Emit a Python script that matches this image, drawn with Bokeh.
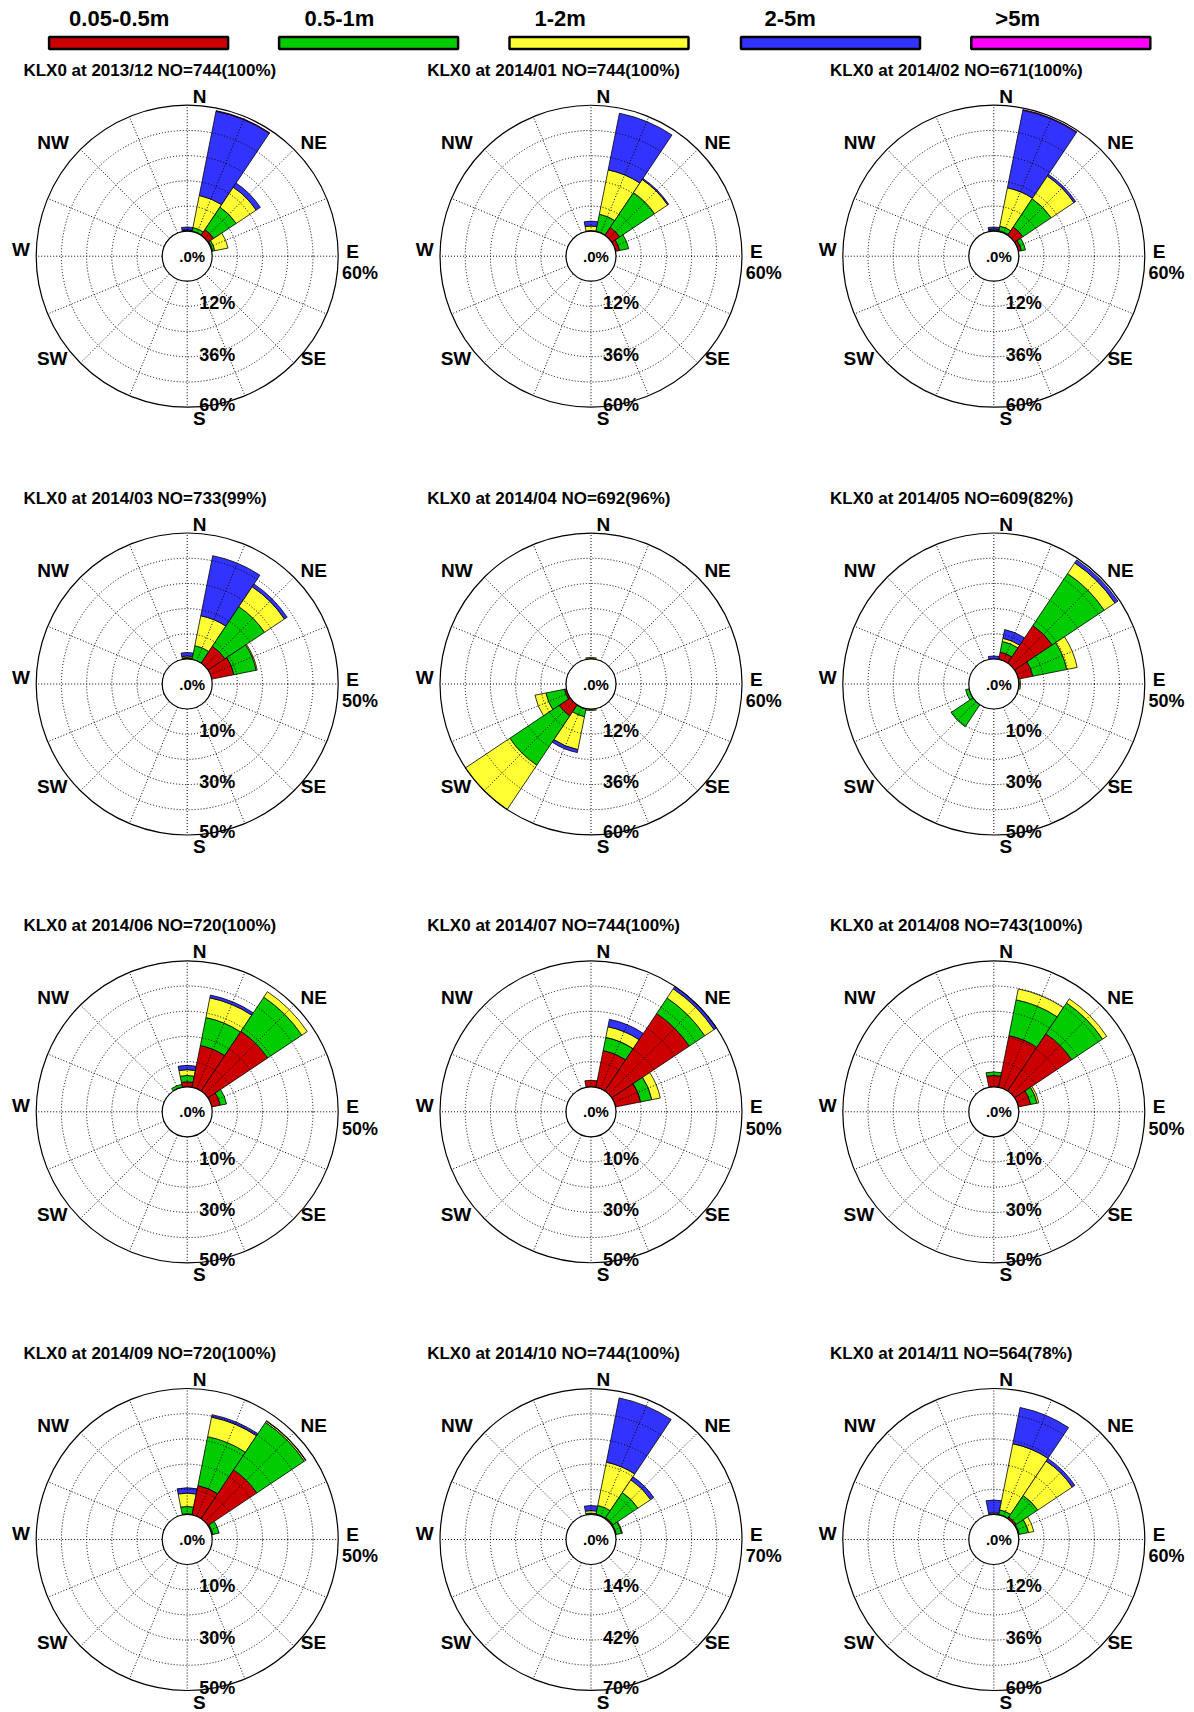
import numpy as np
from bokeh.plotting import figure
from bokeh.models import Range1d
from bokeh.core.properties import value
from bokeh.embed import file_html
from bokeh.resources import INLINE

# ---------------- data ----------------
STATION = "KLX0"
MONTHS = ["2013/12", "2014/01", "2014/02", "2014/03", "2014/04", "2014/05",
          "2014/06", "2014/07", "2014/08", "2014/09", "2014/10", "2014/11"]
COUNTS = [744, 744, 671, 733, 692, 609, 720, 744, 743, 720, 744, 564]
COVERAGE = [100, 100, 100, 99, 96, 82, 100, 100, 100, 100, 100, 78]
RMAX = [60, 60, 60, 50, 60, 50, 50, 50, 50, 50, 70, 60]
DIR_LABELS = ["N", "NE", "E", "SE", "S", "SW", "W", "NW"]
CLASS_LABELS = ["0.05-0.5m", "0.5-1m", "1-2m", "2-5m", ">5m"]
CLASS_COLORS = ["#CC0000", "#00CC00", "#FFFF33", "#3333FF", "#FF00FF"]

# percentage per 16 directions: N NNE NE ENE E ESE SE SSE S SSW SW WSW W WNW NW NNW
RED = [
    [0.2, 0.3, 3.3, 0.5, 0, 0, 0, 0, 0, 0, 0, 0, 0, 0, 0, 0],
    [0, 0.3, 4.6, 2.0, 0, 0, 0, 0, 0, 0, 0, 0, 0, 0, 0, 0],
    [0, 0.5, 4.8, 1.5, 0, 0, 0, 0, 0, 0, 0, 0, 0, 0, 0, 0],
    [0.3, 0, 8.1, 9.0, 0, 0, 0, 0, 0, 0, 0, 0, 0, 0, 0, 0],
    [0, 0, 0, 0, 0, 0, 0, 0, 0, 0.3, 6.4, 1.0, 0, 0, 0, 0],
    [0, 3.0, 18.0, 5.9, 0, 0, 0, 0, 0, 0, 0, 0, 0, 0, 0, 0],
    [2.0, 16.9, 28.5, 3.5, 0, 0, 0, 0, 0, 0, 0, 0, 0, 0, 0, 0],
    [2.6, 14.9, 37.0, 10.2, 0, 0, 0, 0, 0, 0, 0, 0, 0, 0, 0, 0],
    [4.5, 20.9, 27.3, 5.0, 0, 0, 0, 0, 0, 0, 0, 0, 0, 0, 0, 0],
    [0.3, 11.9, 23.3, 0.5, 0, 0, 0, 0, 0, 0, 0, 0, 0, 0, 0, 0],
    [0.2, 0.5, 0.8, 0.5, 0, 0, 0, 0, 0, 0, 0, 0, 0, 0, 0, 0],
    [0, 0.3, 1.0, 0.5, 0, 0, 0, 0, 0, 0, 0, 0, 0, 0, 0, 0],
]
GREEN = [
    [0.3, 1.7, 12.9, 1.0, 0, 0, 0, 0, 0, 0, 0, 0, 0, 0, 0, 0],
    [0.3, 8.2, 19.9, 4.4, 0, 0, 0, 0, 0, 0, 0, 0, 0, 0, 0, 0],
    [0.5, 2.2, 16.2, 2.0, 0, 0, 0, 0, 0, 0, 0, 0, 0, 0, 0, 0],
    [0.3, 5.6, 18.9, 9.0, 0, 0, 0, 0, 0, 0, 0, 0, 0, 0, 0, 0],
    [0.2, 0, 0, 0, 0, 0, 0, 0, 0.2, 3.7, 28.2, 9.0, 0, 0, 0, 0],
    [0, 4.3, 24.8, 13.7, 0.2, 0, 0, 0, 0, 0, 10.5, 1.5, 0, 0, 0, 0],
    [2.5, 11.3, 16.3, 2.5, 0, 0, 0, 0, 0, 0, 0, 0, 0, 0, 0, 1.2],
    [0, 5.3, 7.4, 4.5, 0, 0, 0, 0, 0, 0, 0, 0, 0, 0, 0, 0],
    [1.4, 14.5, 14.7, 2.6, 0, 0, 0, 0, 0, 0, 0, 0, 0, 0, 0, 0],
    [2.9, 19.8, 22.7, 2.5, 0, 0, 0, 0, 0, 0, 0, 0, 0, 0, 0, 0],
    [0.6, 4.9, 16.7, 3.0, 0, 0, 0, 0, 0, 0, 0, 0, 0, 0, 0, 0],
    [0.3, 2.2, 12.3, 4.5, 0, 0, 0, 0, 0, 0, 0, 0, 0, 0, 0, 0],
]
YELLOW = [
    [0.2, 15.6, 11.4, 6.4, 0, 0, 0, 0, 0, 0, 0, 0, 0, 0, 0, 0],
    [2.2, 21.5, 7.5, 0, 0, 0, 0, 0, 0, 0, 0, 0, 0, 0, 0, 0],
    [0.5, 18.6, 13.0, 0, 0, 0, 0, 0, 0, 0, 0, 0, 0, 0, 0, 0],
    [0.6, 12.1, 9.5, 0.4, 0, 0, 0, 0, 0, 0, 0, 0, 0, 0, 0, 0],
    [0.6, 0, 0, 0, 0, 0, 0, 0, 0.6, 16.0, 25.4, 5.3, 0, 0, 0, 0],
    [0, 1.3, 5.1, 4.2, 0.5, 0, 0, 0, 0, 0, 0, 0, 0, 0, 0, 0],
    [2.3, 8.0, 2.6, 0, 0, 0, 0, 0, 0, 0, 0, 0, 0, 0, 0, 0],
    [0, 4.3, 4.4, 3.4, 0, 0, 0, 0, 0, 0, 0, 0, 0, 0, 0, 0],
    [0, 4.4, 2.0, 0.7, 0, 0, 0, 0, 0, 0, 0, 0, 0, 0, 0, 0],
    [5.3, 7.9, 0.6, 0, 0, 0, 0, 0, 0, 0, 0, 0, 0, 0, 0, 0],
    [1.4, 24.5, 8.5, 0.4, 0, 0, 0, 0, 0, 0, 0, 0, 0, 0, 0, 0],
    [0.5, 32.1, 19.7, 2.5, 0, 0, 0, 0, 0, 0, 0, 0, 0, 0, 0, 0],
]
BLUE = [
    [1.3, 40.9, 2.4, 0, 0, 0, 0, 0, 0, 0, 0, 0, 0, 0, 0, 0],
    [2.3, 27.5, 0.6, 0, 0, 0, 0, 0, 0, 0, 0, 0, 0, 0, 0, 0],
    [1.0, 37.7, 1.0, 0, 0, 0, 0, 0, 0, 0, 0, 0, 0, 0, 0, 0],
    [1.4, 24.3, 1.3, 0, 0, 0, 0, 0, 0, 0, 0, 0, 0, 0, 0, 0],
    [0, 0, 0, 0, 0, 0, 0, 0, 0, 1.4, 0, 0, 0, 0, 0, 0],
    [1.2, 3.5, 1.4, 0, 0, 0, 0, 0, 0, 0, 0, 0, 0, 0, 0, 0],
    [1.7, 1.1, 0, 0, 0, 0, 0, 0, 0, 0, 0, 0, 0, 0, 0, 0],
    [0, 3.0, 1.2, 0, 0, 0, 0, 0, 0, 0, 0, 0, 0, 0, 0, 0],
    [0, 0, 0, 0, 0, 0, 0, 0, 0, 0, 0, 0, 0, 0, 0, 0],
    [2.1, 1.0, 0.2, 0, 0, 0, 0, 0, 0, 0, 0, 0, 0, 0, 0, 0],
    [2.8, 36.4, 2.0, 0, 0, 0, 0, 0, 0, 0, 0, 0, 0, 0, 0, 0],
    [6.1, 17.6, 1.5, 0, 0, 0, 0, 0, 0, 0, 0, 0, 0, 0, 0, 0],
]
MAGENTA = [
    [0, 0.3, 0, 0, 0, 0, 0, 0, 0, 0, 0, 0, 0, 0, 0, 0],
    [0] * 16,
    [0, 0.3, 0, 0, 0, 0, 0, 0, 0, 0, 0, 0, 0, 0, 0, 0],
    [0] * 16, [0] * 16, [0] * 16, [0] * 16, [0] * 16,
    [0] * 16, [0] * 16, [0] * 16, [0] * 16,
]
CLASSES = [RED, GREEN, YELLOW, BLUE, MAGENTA]

# ---------------- layout (page pixels) ----------------
W, H = 1194, 1712
COL_X = [186.7, 590.5, 993.3]
ROW_Y = [255.7, 683.5, 1111.3, 1539.0]
R_OUT = 151.0
R_IN = 25.0
FONT = "Liberation Sans"

p = figure(width=W, height=H, output_backend="svg", toolbar_location=None,
           x_range=Range1d(0, W), y_range=Range1d(-H, 0),
           min_border=0, outline_line_color=None, background_fill_color="white",
           border_fill_color="white")
p.axis.visible = False
p.xgrid.visible = False
p.ygrid.visible = False


def txt(x, y, s, size, align="center", baseline="middle"):
    p.text(x=[x], y=[-y], text=[s], text_font=value(FONT), text_font_style="bold",
           text_font_size=value(size), text_align=align, text_baseline=baseline,
           text_color="black")


# legend
LEG_X = [48.6, 278.6, 509.0, 740.5, 970.8]
LEG_TXT_DX = [20.0, 25.5, 25.0, 23.5, 24.0]
LEG_W = 179.0
p.quad(left=LEG_X, right=[x + LEG_W for x in LEG_X], top=[-36.5] * 5, bottom=[-48.5] * 5,
       fill_color=CLASS_COLORS, line_color="black", line_width=2.5)
for i, lab in enumerate(CLASS_LABELS):
    txt(LEG_X[i] + LEG_TXT_DX[i], 18.0, lab, "22px", align="left")

step = 360.0 / 16
half = np.deg2rad(step / 2)

for m in range(12):
    cx = COL_X[m % 3]
    cy = ROW_Y[m // 3]
    yc = -cy
    vmax = RMAX[m]
    scale = (R_OUT - R_IN) / vmax

    # bars
    xs, ys, ri, ro, sa, ea, cols = [], [], [], [], [], [], []
    for d in range(16):
        cum = 0.0
        ang = np.deg2rad(90.0 - d * step)
        for c in range(5):
            v = CLASSES[c][m][d]
            if v <= 0:
                continue
            a = R_IN + cum * scale
            cum += v
            b = min(R_IN + cum * scale, R_OUT)
            xs.append(cx); ys.append(yc); ri.append(a); ro.append(b)
            sa.append(ang - half); ea.append(ang + half); cols.append(CLASS_COLORS[c])
    p.annular_wedge(x=xs, y=ys, inner_radius=ri, outer_radius=ro, start_angle=sa,
                    end_angle=ea, fill_color=cols, line_color="black", line_width=0.8)

    # dotted rings
    rings = [R_IN + k / 5 * (R_OUT - R_IN) for k in range(1, 5)]
    for r in rings:
        p.arc(x=cx, y=yc, radius=r, start_angle=0, end_angle=2 * np.pi,
              line_color="black", line_width=1, line_dash="1 2")
    # spokes
    angs = np.deg2rad(np.arange(16) * step)
    p.segment(x0=list(cx + R_IN * np.cos(angs)), y0=list(yc + R_IN * np.sin(angs)),
              x1=list(cx + R_OUT * np.cos(angs)), y1=list(yc + R_OUT * np.sin(angs)),
              line_color="black", line_width=1, line_dash="1 2")
    # outer and hole circles
    p.arc(x=cx, y=yc, radius=R_OUT, start_angle=0, end_angle=2 * np.pi,
          line_color="black", line_width=1.2)
    p.circle(x=[cx], y=[yc], radius=R_IN, fill_color="white", line_color="black",
             line_width=1.2)

    # labels
    txt(cx - 163.8, cy - 186.0,
        f"{STATION} at {MONTHS[m]} NO={COUNTS[m]}({COVERAGE[m]}%)", "17px", align="left")
    offs = [(12.3, -159.9), (126.6, -114.0), (165.3, -4.9), (126.3, 102.6),
            (12.1, 162.6), (-135.0, 102.6), (-166.2, -6.5), (-134.2, -114.0)]
    for lab, (dx, dy) in zip(DIR_LABELS, offs):
        txt(cx + dx, cy + dy, lab, "19px")
    ticks = [vmax // 5, 3 * vmax // 5, vmax]
    for t, dy in zip(ticks, [46.8, 98.3, 148.3]):
        txt(cx + 30.0, cy + dy, f"{t}%", "18px")
    txt(cx + 172.8, cy + 16.8, f"{vmax}%", "18px")
    txt(cx + 5.0, cy, ".0%", "15px")

open("out.html", "w").write(file_html(p, INLINE))
